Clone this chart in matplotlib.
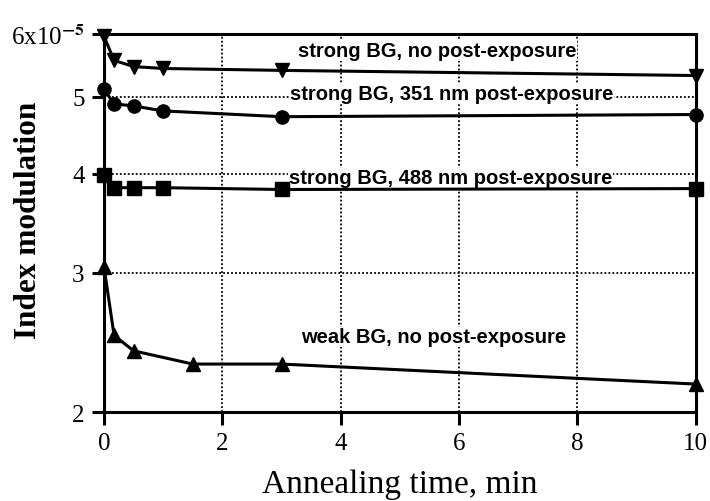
import matplotlib
matplotlib.use("Agg")
import matplotlib.pyplot as plt
from matplotlib.ticker import FixedLocator, NullLocator

# annealing time, min
t_strong = [0, 0.17, 0.5, 1, 3, 10]
t_weak = [0, 0.17, 0.5, 1.5, 3, 10]

# index modulation, units of 1e-5
n_strong_none = [5.96, 5.56, 5.46, 5.43, 5.40, 5.32]
n_strong_351 = [5.11, 4.90, 4.87, 4.80, 4.72, 4.75]
n_strong_488 = [3.98, 3.84, 3.84, 3.84, 3.82, 3.83]
n_weak_none = [3.05, 2.50, 2.39, 2.30, 2.30, 2.17]

labels = [
    "strong BG, no post-exposure",
    "strong BG, 351 nm post-exposure",
    "strong BG, 488 nm post-exposure",
    "weak BG, no post-exposure",
]
label_pos = [(3.28, 5.72), (3.15, 5.05), (3.12, 3.95), (3.33, 2.49)]

plt.rcParams["mathtext.fontset"] = "stix"

fig = plt.figure(figsize=(7.1, 5.02), dpi=100)
ax = fig.add_axes([0.1465, 0.177, 0.8335, 0.753])

series = [
    (t_strong, n_strong_none, "v"),
    (t_strong, n_strong_351, "o"),
    (t_strong, n_strong_488, "s"),
    (t_weak, n_weak_none, "^"),
]
for t, n, m in series:
    ax.plot(t, n, color="black", lw=2.2, marker=m, ms=9.5, clip_on=False, zorder=4)

for text, (x, y) in zip(labels, label_pos):
    ax.text(x, y, text, family="Liberation Sans", fontsize=14.5,
            fontweight="bold", va="center", ha="left", zorder=3,
            bbox=dict(facecolor="white", edgecolor="none", pad=0.5))

ax.set_yscale("log")
ax.set_xlim(0, 10)
ax.set_ylim(2, 6)
ax.yaxis.set_major_locator(FixedLocator([2, 3, 4, 5, 6]))
ax.yaxis.set_minor_locator(NullLocator())
ax.set_yticklabels(["2", "3", "4", "5", r"6x10$^{\mathbf{-5}}$"])
ax.set_xticks([0, 2, 4, 6, 8, 10])

ax.grid(True, which="major", color="black", linestyle=(0, (1, 1.2)), lw=1.3)
ax.set_axisbelow(True)

for s in ax.spines.values():
    s.set_linewidth(2.2)
ax.tick_params(direction="out", length=9, width=2.2, labelsize=18, pad=5)
for lab in ax.get_xticklabels() + ax.get_yticklabels():
    lab.set_family("Liberation Serif")

ax.set_xlabel("Annealing time, min", family="Liberation Serif", fontsize=24,
              va="center")
ax.xaxis.set_label_coords(0.5, -0.19)
ax.set_ylabel("Index modulation", family="Liberation Serif", fontsize=22.5,
              fontweight="bold", va="center")
ax.yaxis.set_label_coords(-0.128, 0.51)

fig.savefig("out.png", dpi=100)
